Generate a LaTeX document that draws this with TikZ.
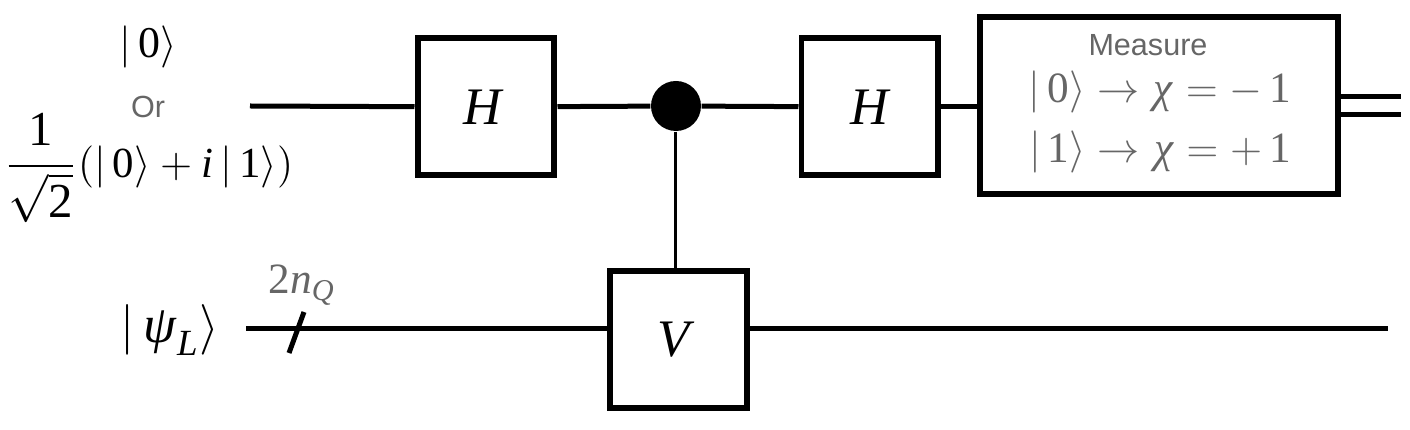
\documentclass[tikz,border=0pt]{standalone}
\usepackage{amsmath}
\usepackage{mathspec}
\setmainfont{Liberation Serif}
\setmathsfont(Digits,Latin,Greek)[Scale=1]{Liberation Serif}
\newfontfamily\labelfont{Liberation Sans}
\definecolor{labelgray}{HTML}{666666}
\tikzset{
    wire/.style={line width=0.05cm},
    gate/.style={draw,line width=0.06cm,fill=white,minimum size=1.37cm,inner sep=0pt,font=\fontsize{15}{18}\selectfont},
    dot/.style={circle,fill=black,minimum size=0.5cm,inner sep=0pt},
    ket/.style={inner sep=0pt,font=\fontsize{12.5}{15}\selectfont},
    greytext/.style={inner sep=0pt,text=labelgray,font=\fontsize{12.3}{15}\selectfont},
    word/.style={inner sep=0pt,text=labelgray,font=\labelfont\fontsize{8.7}{10}\selectfont}
}
\begin{document}
\begin{tikzpicture}
    \useasboundingbox (0,0) rectangle (14.1,4.3);

    \node[ket] (zero) at (1.48,3.83) {$|\,0\rangle$};
    \node[word] (or) at (1.48,3.23) {Or};
    \node[ket,anchor=base,font=\fontsize{12.2}{15}\selectfont] (plus) at (1.485,2.52) {\scalebox{1.14}{$\dfrac{1}{\sqrt{2}}$}$(|\,0\rangle+i\,|\,1\rangle)$};
    \node[ket,font=\fontsize{15}{18}\selectfont] (psi) at (1.70,1.00) {$|\,\psi_L\rangle$};
    \node[greytext] (count) at (3.02,1.45) {$2n_Q$};

    \coordinate (topin) at (2.50,3.24);
    \coordinate (botin) at (2.46,1.01);
    \coordinate (botout) at (13.88,1.01);

    \node[gate] (h1) at (4.86,3.23) {\hspace{-0.06cm}$H$};
    \node[dot] (ctrl) at (6.76,3.24) {};
    \node[gate] (h2) at (8.70,3.23) {$H$};
    \node[gate] (v) at (6.79,0.905) {\hspace{-0.1cm}\raisebox{-0.05cm}{$V$}};
    \node[gate,minimum width=3.58cm,minimum height=1.77cm] (meas) at (11.59,3.245) {};

    \node[word] (mword) at (11.48,3.85) {Measure};
    \node[greytext] (mzero) at (11.60,3.38) {$|\,0\rangle\rightarrow\chi=-\,1$};
    \node[greytext] (mone) at (11.60,2.78) {$|\,1\rangle\rightarrow\chi=+\,1$};

    \draw[wire] (topin) -- (h1);
    \draw[wire] (h1) -- (ctrl);
    \draw[wire] (ctrl) -- (h2);
    \draw[wire] (h2) -- (h2-|meas.west);
    \draw[wire] (botin) -- (botin-|v.west);
    \draw[wire] (botin-|v.east) -- (botout);
    \draw[line width=0.03cm] (ctrl) -- (ctrl|-v.north);

    \coordinate (slasha) at (2.89,0.77);
    \coordinate (slashb) at (3.04,1.18);
    \draw[wire] (slasha) -- (slashb);

    \coordinate (dbla) at (14.01,3.33);
    \coordinate (dblb) at (14.01,3.15);
    \draw[wire] (dbla-|meas.east) -- (dbla);
    \draw[wire] (dblb-|meas.east) -- (dblb);
\end{tikzpicture}
\end{document}
